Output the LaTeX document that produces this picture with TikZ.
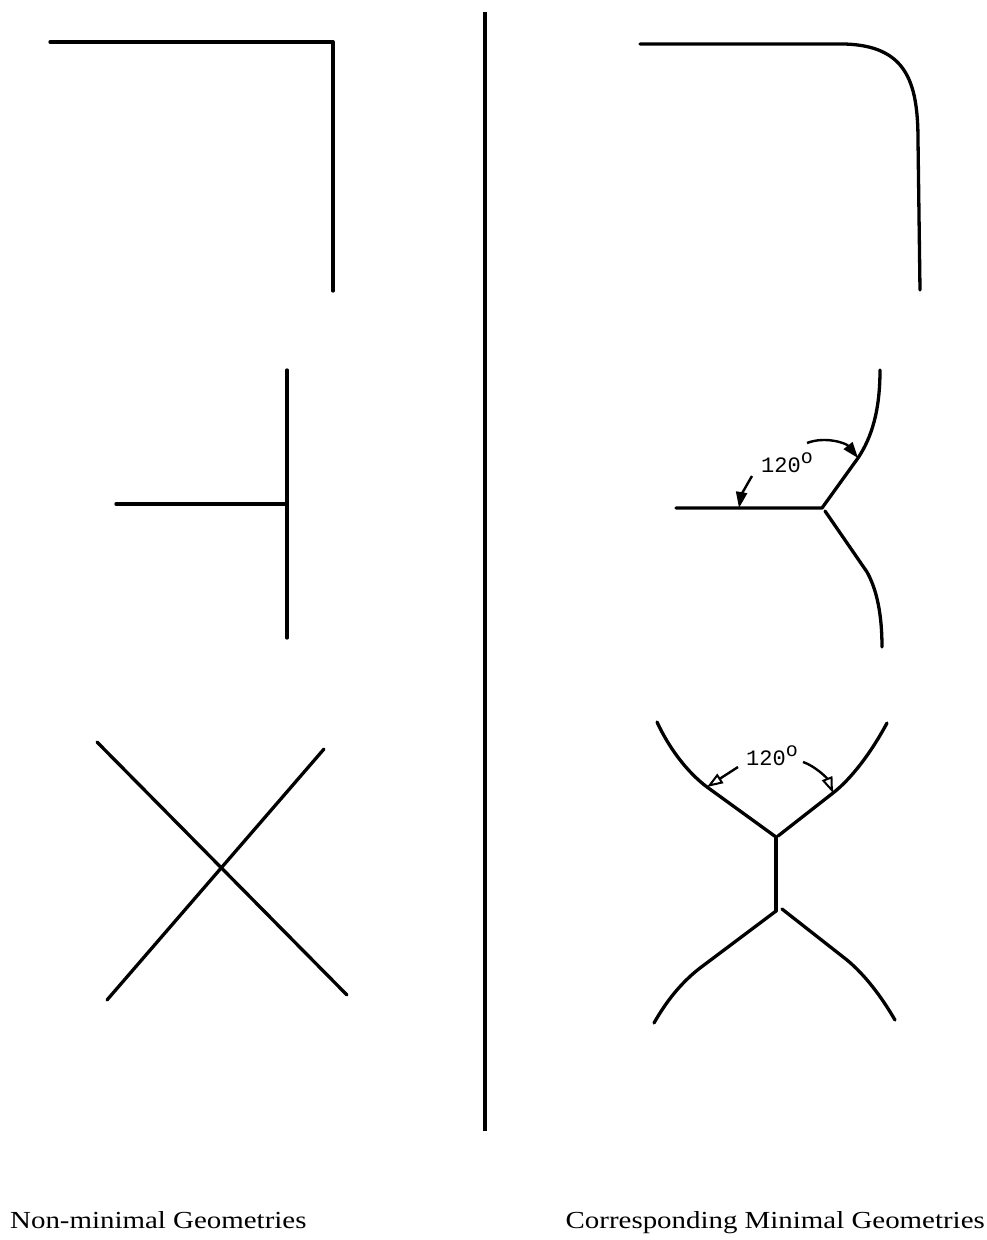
\documentclass[tikz,border=0pt]{standalone}
\usepackage{fontspec}
\setmainfont{Liberation Serif}
\newfontfamily\capfont[FakeStretch=1.18]{Liberation Serif}
\newfontfamily\monofam{Liberation Mono}
\usetikzlibrary{arrows.meta}
\begin{document}
\begin{tikzpicture}[x=1pt,y=-1pt,
  geo/.style={line width=3.3pt,line cap=round,line join=round},
  angarrow/.style={line width=2.4pt,-{Triangle[length=16pt,width=11pt]}},
  angarrowopen/.style={line width=2.4pt,-{Triangle[open,length=16pt,width=11pt,line width=2pt]}},
  caption/.style={font=\capfont\fontsize{24.5}{28}\selectfont,inner sep=0pt},
  anglabel/.style={font=\monofam\fontsize{22}{22}\selectfont,inner sep=0pt}]
\useasboundingbox (0,0) rectangle (987,1240);
\fill[white] (0,0) rectangle (987,1240);

% divider
\coordinate (dtop) at (485,12);
\coordinate (dbot) at (485,1131);
\draw[line width=3.2pt] (dtop) -- (dbot);

% ---- left: L corner
\coordinate (l1a) at (50,42);
\coordinate (l1b) at (333,42);
\coordinate (l1c) at (333,291);
\draw[geo] (l1a) -- (l1b) -- (l1c);

% ---- left: T junction
\coordinate (t1) at (287,370);
\coordinate (t2) at (287,638);
\coordinate (t3) at (116,504);
\coordinate (tj) at (287,504);
\draw[geo] (t1) -- (t2);
\draw[geo] (t3) -- (tj);

% ---- left: X crossing
\coordinate (x1) at (97,742);
\coordinate (x2) at (347,995);
\coordinate (x3) at (324,749);
\coordinate (x4) at (107,1000);
\draw[geo] (x1) -- (x2);
\draw[geo] (x3) -- (x4);

% ---- right: rounded corner
\coordinate (r1a) at (640,44);
\coordinate (r1b) at (845,44);
\coordinate (r1c) at (918,140);
\coordinate (r1d) at (920,290);
\draw[geo] (r1a) -- (r1b) .. controls (905,46) and (918,80) .. (r1c) -- (r1d);

% ---- right: triple junction
\coordinate (yj) at (822,508);
\coordinate (yh) at (676,508);
\coordinate (yu1) at (858,458);
\coordinate (yu2) at (880,370);
\coordinate (yl0) at (825,511);
\coordinate (yl1) at (867,572);
\coordinate (yl2) at (882,647);
\draw[geo] (yh) -- (yj) -- (yu1) .. controls (872,437) and (880,410) .. (yu2);
\draw[geo] (yl0) -- (yl1) .. controls (877,590) and (882,615) .. (yl2);
\node[anglabel,anchor=base west] (lab1) at (761,472) {120\raisebox{0.40em}{\fontsize{20}{20}\selectfont o}};
\coordinate (a1s) at (807,443);
\coordinate (a2s) at (752,476);
\coordinate (a2e) at (739,508);
\draw[angarrow] (a1s) .. controls (825,436) and (846,443) .. (yu1);
\draw[angarrow] (a2s) .. controls (746,486) and (741,496) .. (a2e);

% ---- right: double junction
\coordinate (hj1) at (776,837);
\coordinate (hj2) at (776,911);
\coordinate (ul1) at (707,787);
\coordinate (ul2) at (657,722);
\coordinate (ur0) at (778,836);
\coordinate (ur1) at (833,793);
\coordinate (ur2) at (887,723);
\coordinate (ll1) at (700,968);
\coordinate (ll2) at (654,1023);
\coordinate (lr0) at (782,909);
\coordinate (lr1) at (847,960);
\coordinate (lr2) at (895,1020);
\draw[geo] (hj1) -- (hj2);
\draw[geo] (hj1) -- (ul1) .. controls (687,772) and (669,748) .. (ul2);
\draw[geo] (ur0) -- (ur1) .. controls (851,779) and (871,753) .. (ur2);
\draw[geo] (hj2) -- (ll1) .. controls (682,982) and (667,1000) .. (ll2);
\draw[geo] (lr0) -- (lr1) .. controls (865,975) and (881,996) .. (lr2);
\node[anglabel,anchor=base west] (lab2) at (746,765) {120\raisebox{0.40em}{\fontsize{20}{20}\selectfont o}};
\coordinate (b1s) at (738,767);
\coordinate (b2s) at (803,762);
\draw[angarrowopen] (b1s) -- (ul1);
\draw[angarrowopen] (b2s) .. controls (815,766) and (827,778) .. (ur1);

% ---- captions
\node[caption,anchor=base west] (capl) at (10,1228) {Non-minimal Geometries};
\node[caption,anchor=base east] (capr) at (985,1228) {Corresponding Minimal Geometries};
\end{tikzpicture}
\end{document}
